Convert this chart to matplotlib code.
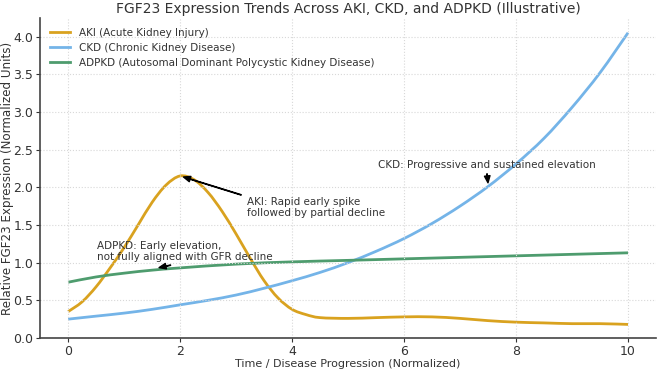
import numpy as np
import matplotlib
matplotlib.use("Agg")
import matplotlib.pyplot as plt
from matplotlib.path import Path
from matplotlib.patches import PathPatch
from matplotlib.lines import Line2D

# values
x_aki = [0, 0.25, 0.5, 0.75, 1.0, 1.25, 1.5, 1.75, 2.0, 2.25, 2.5, 2.75, 3.0, 3.25,
         3.5, 3.75, 4.0, 4.25, 4.5, 5.0, 5.5, 6.0, 6.5, 7.0, 7.5, 8.0, 8.5, 9.0, 9.5, 10.0]
aki = [0.35, 0.48, 0.68, 0.93, 1.20, 1.50, 1.80, 2.03, 2.15, 2.10, 1.93, 1.68, 1.38, 1.06,
       0.76, 0.53, 0.38, 0.31, 0.27, 0.26, 0.27, 0.28, 0.28, 0.26, 0.23, 0.21, 0.20, 0.19, 0.19, 0.18]

x_ckd = [0, 0.5, 1, 1.5, 2, 2.5, 3, 3.5, 4, 4.5, 5, 5.5, 6, 6.5, 7, 7.5, 8, 8.5, 9, 9.5, 10]
ckd = [0.25, 0.29, 0.33, 0.38, 0.44, 0.50, 0.57, 0.66, 0.76, 0.87, 1.00, 1.15, 1.32,
       1.52, 1.75, 2.01, 2.31, 2.65, 3.06, 3.52, 4.05]

x_adpkd = [0, 0.5, 1, 1.5, 2, 3, 4, 5, 6, 7, 8, 9, 10]
adpkd = [0.74, 0.81, 0.86, 0.90, 0.93, 0.98, 1.01, 1.03, 1.05, 1.07, 1.09, 1.11, 1.13]

names = ['AKI (Acute Kidney Injury)', 'CKD (Chronic Kidney Disease)',
         'ADPKD (Autosomal Dominant Polycystic Kidney Disease)']
colors = ['#D9A21F', '#74B4E8', '#4E9C6E']


def smooth_path(xs, ys):
    # draw a smooth curve through the read points (Catmull-Rom as cubic Bezier)
    p = np.column_stack([xs, ys]).astype(float)
    verts = [p[0]]
    codes = [Path.MOVETO]
    for i in range(len(p) - 1):
        p0 = p[i - 1] if i > 0 else p[i]
        p3 = p[i + 2] if i + 2 < len(p) else p[i + 1]
        c1 = p[i] + (p[i + 1] - p0) / 6
        c2 = p[i + 1] - (p3 - p[i]) / 6
        verts += [c1, c2, p[i + 1]]
        codes += [Path.CURVE4] * 3
    return Path(verts, codes)


plt.rcParams['font.family'] = 'DejaVu Sans'
fig = plt.figure(figsize=(6.58, 3.71), dpi=100)
ax = fig.add_axes([0.061, 0.089, 0.936, 0.862])

handles = []
for xs, ys, c, n in zip([x_aki, x_ckd, x_adpkd], [aki, ckd, adpkd], colors, names):
    ax.add_patch(PathPatch(smooth_path(xs, ys), fc='none', ec=c, lw=2))
    ax.update_datalim(np.column_stack([xs, ys]))
    handles.append(Line2D([], [], color=c, lw=2, label=n))
ax.autoscale_view()

ax.set_ylim(bottom=0)
ax.set_xticks([0, 2, 4, 6, 8, 10])
ax.grid(True, ls=':', color='#d8d8d8', lw=0.8)
for s in ['top', 'right']:
    ax.spines[s].set_visible(False)
for s in ['left', 'bottom']:
    ax.spines[s].set_color('#444444')
    ax.spines[s].set_linewidth(1.2)
ax.tick_params(labelsize=9, colors='#333333', length=3, pad=2)

ax.set_title('FGF23 Expression Trends Across AKI, CKD, and ADPKD (Illustrative)',
             fontsize=10, color='#333333', pad=4)
ax.set_xlabel('Time / Disease Progression (Normalized)', fontsize=8, color='#333333',
              labelpad=1)
ax.set_ylabel('Relative FGF23 Expression (Normalized Units)', fontsize=8.6,
              color='#333333')
ax.yaxis.set_label_coords(-0.043, 0.5)

ax.legend(handles=handles, loc='upper left', frameon=False, fontsize=7.5,
          labelcolor='#333333')

arr = dict(facecolor='black', shrink=0.05, width=0.3, headwidth=4, headlength=5)
ax.annotate('AKI: Rapid early spike\nfollowed by partial decline', xy=(2, 2.15),
            xytext=(3.2, 1.73), va='center', fontsize=7.5, color='#333333', arrowprops=arr)
ax.annotate('CKD: Progressive and sustained elevation', xy=(7.5, 2.05),
            xytext=(5.53, 2.29), va='center', fontsize=7.5, color='#333333', arrowprops=arr)
ax.annotate('ADPKD: Early elevation,\nnot fully aligned with GFR decline', xy=(1.6, 0.93),
            xytext=(0.52, 1.15), va='center', fontsize=7.5, color='#333333', arrowprops=arr)

plt.savefig('out.png')
